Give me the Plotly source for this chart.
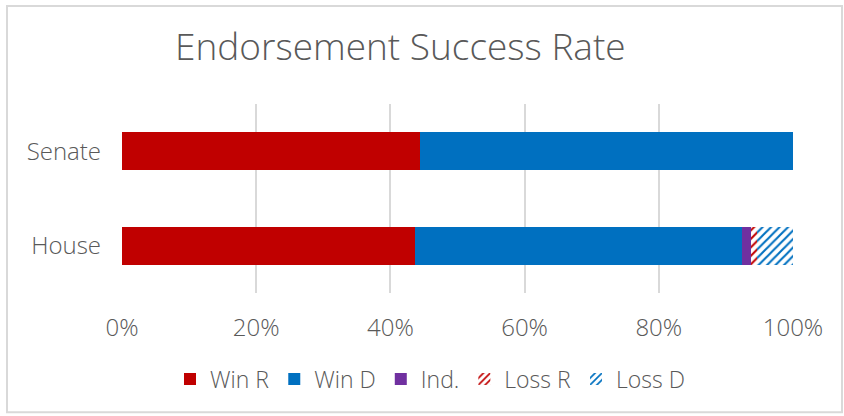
import plotly.graph_objects as go

categories = ["House", "Senate"]
win_r = [43.7, 44.4]
win_d = [48.7, 55.6]
ind = [1.3, 0]
loss_r = [0.9, 0]
loss_d = [5.4, 0]
x_ticks = [0, 20, 40, 60, 80, 100]

FONT = "Open Sans"
WEIGHT = 300
GRAY = "#595959"
RED = "#C00000"
BLUE = "#0070C0"
PURPLE = "#7030A0"

fig = go.Figure()
fig.add_trace(go.Bar(name="Win R", y=categories, x=win_r, orientation="h",
                     marker=dict(color=RED, line=dict(width=0))))
fig.add_trace(go.Bar(name="Win D", y=categories, x=win_d, orientation="h",
                     marker=dict(color=BLUE, line=dict(width=0))))
fig.add_trace(go.Bar(name="Ind.", y=categories, x=ind, orientation="h",
                     marker=dict(color=PURPLE, line=dict(width=0))))
fig.add_trace(go.Bar(name="Loss R", y=categories, x=loss_r, orientation="h",
                     marker=dict(color="white", line=dict(width=0),
                                 pattern=dict(shape="/", fgcolor=RED, bgcolor="white",
                                              size=6, solidity=0.35, fillmode="replace"))))
fig.add_trace(go.Bar(name="Loss D", y=categories, x=loss_d, orientation="h",
                     marker=dict(color="white", line=dict(width=0),
                                 pattern=dict(shape="/", fgcolor=BLUE, bgcolor="white",
                                              size=6, solidity=0.35, fillmode="replace"))))

W, H = 844, 416
L, R, T, B = 122, 793, 103.5, 293.5
pw, ph = R - L, B - T

def px(x):
    return (x - L) / pw

def py(y):
    return (B - y) / ph

def f(size):
    return dict(size=size, color=GRAY, family=FONT, weight=WEIGHT)

fig.update_layout(
    width=W, height=H,
    margin=dict(l=L, r=W - R, t=T, b=H - B, pad=0),
    barmode="stack",
    bargap=0.6,
    plot_bgcolor="white",
    paper_bgcolor="white",
    font=f(23),
    showlegend=True,
    legend=dict(orientation="h", x=px(430), y=py(380), xanchor="center", yanchor="middle",
                font=f(23), traceorder="normal", itemwidth=30, tracegroupgap=0),
    xaxis=dict(range=[0, 100], tickvals=x_ticks, ticktext=[f"{v}%" for v in x_ticks],
               showgrid=True, gridcolor="#D9D9D9", gridwidth=2, zeroline=False,
               showline=False, ticks="", ticklabelstandoff=18,
               tickfont=f(24), fixedrange=True),
    yaxis=dict(showgrid=False, zeroline=False, showline=False, ticks="",
               ticklabelstandoff=20, tickfont=f(24), fixedrange=True),
    annotations=[dict(text="Endorsement Success Rate", xref="paper", yref="paper",
                      x=px(400), y=py(45), xanchor="center", yanchor="middle",
                      showarrow=False, font=f(37))],
    shapes=[dict(type="rect", xref="paper", yref="paper",
                 x0=px(7), x1=px(842), y0=py(413.5), y1=py(5),
                 line=dict(color="#D9D9D9", width=2), fillcolor="rgba(0,0,0,0)", layer="below")],
)

fig.write_html("out.html", config={"displayModeBar": False},
               post_script="document.body.style.margin='0';document.body.style.padding='0';")
